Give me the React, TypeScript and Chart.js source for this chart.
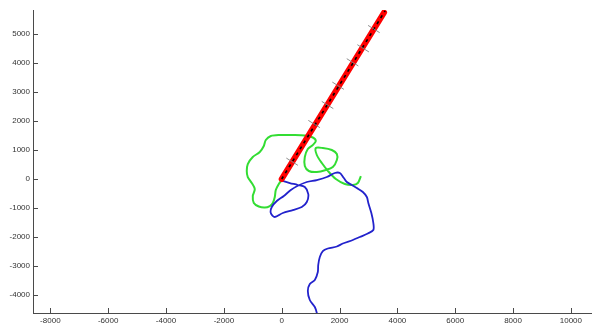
import React, { useEffect, useRef } from "react";
import { Chart, registerables } from "chart.js";

Chart.register(...registerables);

// Axis ranges and tick labels
const xMin = -8600;
const xMax = 10730;
const yMin = -4620;
const yMax = 5828;
const xTickValues = [-8000, -6000, -4000, -2000, 0, 2000, 4000, 6000, 8000, 10000];
const yTickValues = [-4000, -3000, -2000, -1000, 0, 1000, 2000, 3000, 4000, 5000];

// Red straight track and black dashed overlay
const redX = [0, 3540];
const redY = [0, 5740];
const blackX = [0, 3575];
const blackY = [0, 5800];

// Gray cross-marks along the red track (centres)
const markX = [360, 1121, 1585, 1951, 2450, 2816, 3187];
const markY = [597, 1896, 2552, 3217, 4024, 4507, 5172];
const markHalfX = 200;
const markHalfY = -125;

// Green curve
const greenX = [0, -100, -204, -239, -308, -412, -585, -792, -965, -1000, -931, -1035, -1173, -1208, -1173, -1000, -758, -619, -550, -377, -66, 384, 799, 1076, 1180, 1076, 903, 799, 799, 938, 1214, 1526, 1768, 1907, 1907, 1733, 1422, 1180, 1214, 1387, 1630, 1872, 2183, 2460, 2633, 2737];
const greenY = [-30, -172, -379, -621, -828, -931, -983, -948, -828, -586, -345, -138, 69, 276, 517, 759, 931, 1138, 1345, 1483, 1517, 1517, 1500, 1431, 1310, 1172, 1034, 759, 448, 276, 241, 310, 414, 655, 862, 1000, 1069, 1069, 828, 552, 241, 0, -172, -207, -138, 103];

// Blue curve
const blueX = [0, 280, 557, 799, 920, 868, 695, 384, 38, -239, -377, -343, -170, 73, 315, 540, 868, 1214, 1561, 1837, 2010, 2149, 2252, 2425, 2598, 2806, 2944, 2996, 3100, 3169, 3169, 2979, 2702, 2460, 2114, 1907, 1595, 1422, 1318, 1263, 1249, 1145, 972, 903, 972, 1145, 1214, 1249];
const blueY = [-60, -138, -207, -276, -517, -793, -965, -1069, -1172, -1310, -1172, -965, -759, -586, -379, -240, -103, -34, 69, 207, 207, 34, -103, -207, -310, -448, -621, -828, -1172, -1517, -1758, -1879, -2000, -2103, -2224, -2327, -2396, -2483, -2689, -2965, -3207, -3483, -3620, -3862, -4172, -4413, -4620, -4862];

const zip = (xs: number[], ys: number[]) => xs.map((x, i) => ({ x, y: ys[i] }));

const AXIS_COLOR = "#4a4a4a";

const inwardTicks = {
  id: "inwardTicks",
  afterDraw(chart: any) {
    const { ctx, chartArea, scales } = chart;
    ctx.save();
    ctx.strokeStyle = AXIS_COLOR;
    ctx.lineWidth = 1;
    ctx.beginPath();
    scales.x.ticks.forEach((t: any) => {
      const px = Math.round(scales.x.getPixelForValue(t.value)) + 0.5;
      ctx.moveTo(px, chartArea.bottom);
      ctx.lineTo(px, chartArea.bottom - 5);
    });
    scales.y.ticks.forEach((t: any) => {
      const py = Math.round(scales.y.getPixelForValue(t.value)) + 0.5;
      ctx.moveTo(chartArea.left, py);
      ctx.lineTo(chartArea.left + 5, py);
    });
    ctx.stroke();
    ctx.restore();
  },
};

export default function App() {
  const canvasRef = useRef<HTMLCanvasElement | null>(null);

  useEffect(() => {
    const canvas = canvasRef.current;
    if (!canvas) return;

    const markDatasets = markX.map((cx, i) => ({
      data: [
        { x: cx - markHalfX, y: markY[i] - markHalfY },
        { x: cx + markHalfX, y: markY[i] + markHalfY },
      ],
      borderColor: "rgba(130,130,130,0.9)",
      borderWidth: 1,
      showLine: true,
      pointRadius: 0,
      order: 0,
    }));

    const chart = new Chart(canvas, {
      type: "scatter",
      data: {
        datasets: [
          ...markDatasets,
          {
            data: zip(blackX, blackY),
            borderColor: "#000000",
            borderWidth: 1.6,
            borderDash: [3, 4],
            showLine: true,
            pointRadius: 0,
            order: 1,
          },
          {
            data: zip(redX, redY),
            borderColor: "#ff0000",
            borderWidth: 6,
            borderCapStyle: "round",
            showLine: true,
            pointRadius: 0,
            order: 2,
          },
          {
            data: zip(blueX, blueY),
            borderColor: "#2222cc",
            borderWidth: 1.8,
            showLine: true,
            pointRadius: 0,
            tension: 0.3,
            order: 3,
          },
          {
            data: zip(greenX, greenY),
            borderColor: "#33dd33",
            borderWidth: 2,
            showLine: true,
            pointRadius: 0,
            tension: 0.3,
            order: 4,
          },
        ] as any,
      },
      options: {
        animation: false,
        responsive: false,
        devicePixelRatio: 1,
        layout: { padding: { top: 10, right: 0, left: 0, bottom: 0 } },
        plugins: {
          legend: { display: false },
          tooltip: { enabled: false },
        },
        scales: {
          x: {
            type: "linear",
            min: xMin,
            max: xMax,
            grid: { display: true, drawOnChartArea: false, drawTicks: false },
            border: { display: true, color: AXIS_COLOR, width: 1 },
            afterBuildTicks: (scale: any) => {
              scale.ticks = xTickValues.map((v) => ({ value: v }));
            },
            afterFit: (scale: any) => {
              scale.height = 12;
            },
            ticks: {
              padding: 3,
              maxRotation: 0,
              autoSkip: false,
              color: "#333333",
              font: { family: "Liberation Sans, Arial", size: 8 },
              callback: (v: any) => String(v),
            },
          },
          y: {
            type: "linear",
            min: yMin,
            max: yMax,
            grid: { display: true, drawOnChartArea: false, drawTicks: false },
            border: { display: true, color: AXIS_COLOR, width: 1 },
            afterBuildTicks: (scale: any) => {
              scale.ticks = yTickValues.map((v) => ({ value: v }));
            },
            afterFit: (scale: any) => {
              scale.width = 33;
            },
            ticks: {
              padding: 3,
              autoSkip: false,
              color: "#333333",
              font: { family: "Liberation Sans, Arial", size: 8 },
              callback: (v: any) => String(v),
            },
          },
        },
      },
      plugins: [inwardTicks],
    });

    return () => chart.destroy();
  }, []);

  return (
    <div style={{ position: "absolute", left: 0, top: 0, width: 592, height: 325, background: "#ffffff" }}>
      <canvas ref={canvasRef} width={592} height={325} style={{ display: "block" }} />
    </div>
  );
}
